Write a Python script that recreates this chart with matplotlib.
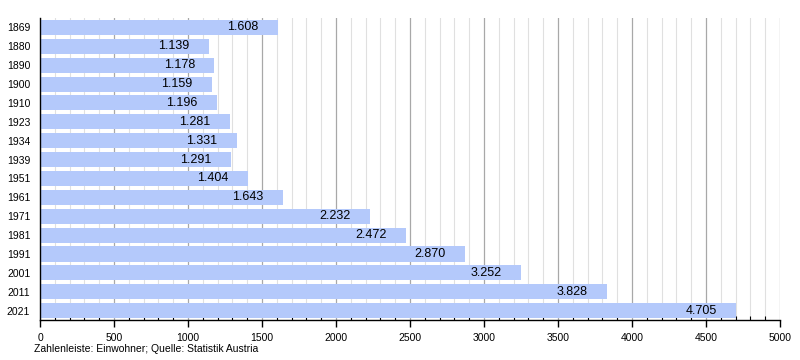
import matplotlib.pyplot as plt
import numpy as np
from matplotlib.ticker import MultipleLocator

plt.rcParams["font.family"] = ["Liberation Sans", "DejaVu Sans"]

years = ["1869", "1880", "1890", "1900", "1910", "1923", "1934", "1939",
         "1951", "1961", "1971", "1981", "1991", "2001", "2011", "2021"]
population = [1608, 1139, 1178, 1159, 1196, 1281, 1331, 1291,
              1404, 1643, 2232, 2472, 2870, 3252, 3828, 4705]
value_labels = ["1.608", "1.139", "1.178", "1.159", "1.196", "1.281", "1.331", "1.291",
                "1.404", "1.643", "2.232", "2.472", "2.870", "3.252", "3.828", "4.705"]

fig = plt.figure(figsize=(8, 3.6), dpi=100)
ax = fig.add_axes([0.05, 0.111, 0.925, 0.839])

y = np.arange(len(years))
ax.barh(y, population, height=0.8, color="#b4c9fb", zorder=2)

for yi, val, lab in zip(y, population, value_labels):
    ax.annotate(lab, (val, yi), xytext=(-14, 0), textcoords="offset points",
                ha="right", va="center", fontsize=9, color="#000000", zorder=3)

ax.set_xlim(0, 5000)
ax.set_ylim(len(years) - 0.5, -0.5)
ax.set_yticks(y)
ax.set_yticklabels(years, fontsize=7.5)
ax.tick_params(axis="y", length=0, pad=7)

ax.xaxis.set_major_locator(MultipleLocator(500))
ax.xaxis.set_minor_locator(MultipleLocator(100))
ax.tick_params(axis="x", which="major", direction="out", length=5, width=1,
               labelsize=7.5, pad=4)
ax.tick_params(axis="x", which="minor", direction="in", length=3, width=0.8)
ax.grid(True, which="major", axis="x", color="#a8a8a8", linewidth=0.9, zorder=0)
ax.grid(True, which="minor", axis="x", color="#e0e0e0", linewidth=0.8, zorder=0)
ax.set_axisbelow(True)

for side in ("top", "right"):
    ax.spines[side].set_visible(False)
ax.spines["left"].set_linewidth(1)
ax.spines["bottom"].set_linewidth(1)

fig.text(0.042, 0.022, "Zahlenleiste: Einwohner; Quelle: Statistik Austria", fontsize=7.5)

plt.savefig("out.png", dpi=100)
